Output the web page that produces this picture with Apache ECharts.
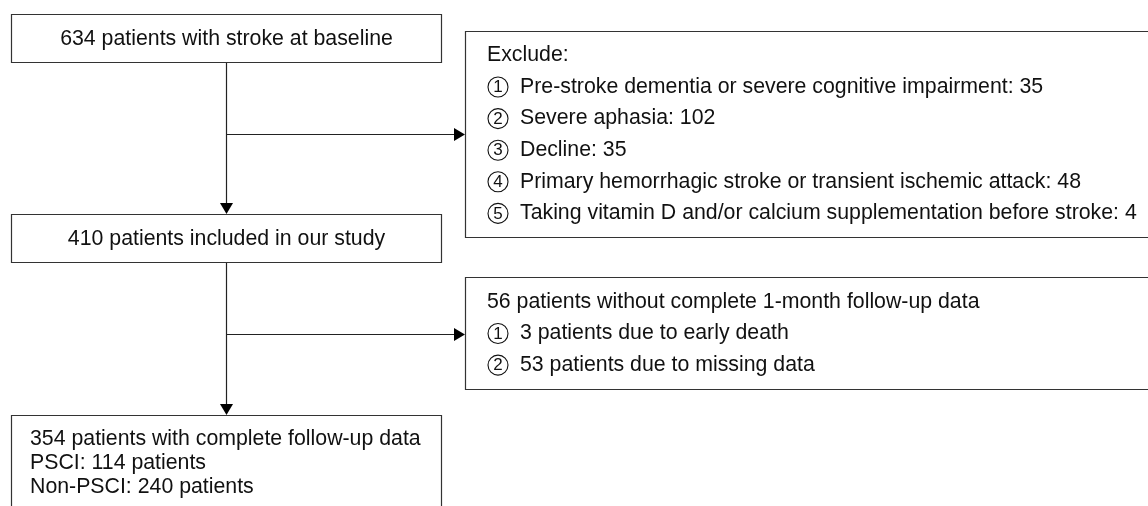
<!DOCTYPE html>
<html>
<head>
<meta charset="utf-8">
<script src="https://cdn.jsdelivr.net/npm/echarts@6/dist/echarts.min.js"></script>
<style>
html,body{margin:0;padding:0;background:#fff;}
#main{width:1148px;height:506px;}
</style>
</head>
<body>
<div id="main"></div>
<script>
// flowchart texts
const baselineText = '634 patients with stroke at baseline'
const includedText = '410 patients included in our study'
const excludeTitle = 'Exclude:'
const excludeItems = [
  'Pre-stroke dementia or severe cognitive impairment: 35',
  'Severe aphasia: 102',
  'Decline: 35',
  'Primary hemorrhagic stroke or transient ischemic attack: 48',
  'Taking vitamin D and/or calcium supplementation before stroke: 4'
]
const lostTitle = '56 patients without complete 1-month follow-up data'
const lostItems = [
  '3 patients due to early death',
  '53 patients due to missing data'
]
const finalLines = [
  '354 patients with complete follow-up data',
  'PSCI: 114 patients',
  'Non-PSCI: 240 patients'
]

const FONT = '21.3px "Liberation Sans", Arial, sans-serif'
const TXT = '#111'
const LINE = '#222'
const BORDER = '#333'

let els = []

function box(x, y, w, h){
  els.push({type:'rect', shape:{x:x+0.5, y:y+0.5, width:w, height:h},
    style:{fill:'#fff', stroke:BORDER, lineWidth:1.2}})
}
function text(t, x, y, align){
  els.push({type:'text', x:x, y:y,
    style:{text:t, font:FONT, fill:TXT, align:align || 'left', verticalAlign:'middle'}})
}
function line(x1, y1, x2, y2){
  els.push({type:'line', shape:{x1:x1, y1:y1, x2:x2, y2:y2},
    style:{stroke:LINE, lineWidth:1.2}})
}
function arrowDown(x, tip){
  els.push({type:'polygon', shape:{points:[[x-6.5, tip-11], [x+6.5, tip-11], [x, tip]]},
    style:{fill:'#000'}})
}
function arrowRight(tip, y){
  els.push({type:'polygon', shape:{points:[[tip-11, y-6.5], [tip-11, y+6.5], [tip, y]]},
    style:{fill:'#000'}})
}
// circled number then the item text
function numbered(i, t, x, y){
  els.push({type:'circle', shape:{cx:x+11, cy:y, r:10},
    style:{fill:'none', stroke:TXT, lineWidth:1.1}})
  els.push({type:'text', x:x+11, y:y+0.5,
    style:{text:String(i), font:'17px "Liberation Sans", Arial, sans-serif', fill:TXT,
      align:'center', verticalAlign:'middle'}})
  text(t, x+33, y)
}

const cx = 226.5

// connectors
line(cx, 62, cx, 204)
arrowDown(cx, 214)
line(cx, 134.5, 455, 134.5)
arrowRight(465, 134.5)
line(cx, 262, cx, 405)
arrowDown(cx, 415)
line(cx, 334.5, 455, 334.5)
arrowRight(465, 334.5)

// left column
box(11, 14, 430, 48)
text(baselineText, cx, 39, 'center')
box(11, 214, 430, 48)
text(includedText, cx, 239, 'center')
box(11, 415, 430, 120)
finalLines.forEach(function(t, i){ text(t, 30, 439 + i * 24.3) })

// exclusion boxes
box(465, 31, 700, 206)
text(excludeTitle, 487, 55)
excludeItems.forEach(function(t, i){ numbered(i + 1, t, 487, 87 + i * 31.6) })

box(465, 277, 700, 112)
text(lostTitle, 487, 302)
lostItems.forEach(function(t, i){ numbered(i + 1, t, 487, 333.5 + i * 31.6) })

let chart = echarts.init(document.getElementById('main'))
chart.setOption({
  backgroundColor:'#fff',
  animation:false,
  graphic:{elements:els}
})
</script>
</body>
</html>
